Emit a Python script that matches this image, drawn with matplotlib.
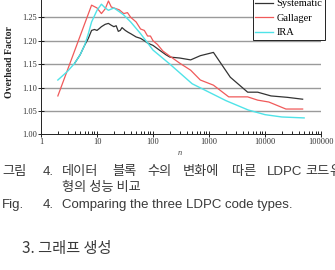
import matplotlib
matplotlib.use("Agg")
import matplotlib.pyplot as plt
from matplotlib.ticker import LogLocator, NullFormatter, FixedLocator

# ---- data ----
sys_n = [4, 5, 6, 7, 8, 9, 10, 11, 12, 14, 16, 18, 20, 22, 24, 26, 28, 32, 36, 40,
         50, 60, 70, 80, 100, 130, 170, 200, 300, 470, 700, 1200, 2400, 4900, 7400,
         12800, 25000, 47000]
sys_v = [1.152, 1.17, 1.19, 1.205, 1.222, 1.224, 1.222, 1.226, 1.23, 1.235, 1.237,
         1.233, 1.23, 1.232, 1.22, 1.222, 1.228, 1.222, 1.218, 1.215, 1.208, 1.205,
         1.2, 1.195, 1.19, 1.18, 1.17, 1.165, 1.163, 1.159, 1.168, 1.175, 1.122,
         1.09, 1.09, 1.082, 1.079, 1.075]

gal_n = [2, 8, 10, 12, 14, 16, 18, 20, 25, 30, 35, 40, 50, 60, 70, 80, 90, 100, 120,
         150, 200, 300, 470, 700, 1200, 2250, 4900, 7400, 11700, 23600, 47000]
gal_v = [1.082, 1.276, 1.27, 1.258, 1.268, 1.285, 1.272, 1.27, 1.266, 1.258, 1.26,
         1.25, 1.24, 1.225, 1.222, 1.21, 1.21, 1.2, 1.192, 1.178, 1.167, 1.152,
         1.137, 1.116, 1.105, 1.08, 1.08, 1.073, 1.069, 1.054, 1.054]

ira_n = [2, 3, 4, 5, 6, 7, 8, 10, 12, 14, 16, 20, 25, 30, 40, 60, 100, 200, 500,
         1000, 2000, 5000, 10000, 20000, 50000]
ira_v = [1.116, 1.135, 1.152, 1.17, 1.19, 1.215, 1.24, 1.265, 1.278, 1.27, 1.265,
         1.27, 1.262, 1.255, 1.24, 1.215, 1.18, 1.15, 1.108, 1.09, 1.072, 1.052,
         1.042, 1.037, 1.035]

series_labels = ["Systematic", "Gallager", "IRA"]
y_ticks = [1.00, 1.05, 1.10, 1.15, 1.20, 1.25]
x_ticks = [1, 10, 100, 1000, 10000, 100000]

W, H = 335, 270
fig = plt.figure(figsize=(W / 100, H / 100), dpi=100)
ax = fig.add_axes([41 / W, 1 - 134.3 / H, (321 - 41) / W, 134.3 / H])

serif = ["Liberation Serif", "DejaVu Serif"]

for y in y_ticks[1:]:
    ax.axhline(y, color="#9a9a9a", lw=1.0, zorder=0)

ax.plot(sys_n, sys_v, color="#333333", lw=0.9, label=series_labels[0])
ax.plot(gal_n, gal_v, color="#f05a5a", lw=0.9, label=series_labels[1])
ax.plot(ira_n, ira_v, color="#4fe3e8", lw=1.0, label=series_labels[2])

ax.set_xscale("log")
ax.set_xlim(1, 100000)
ax.set_ylim(1.0, 1.287)
ax.xaxis.set_major_locator(FixedLocator(x_ticks))
ax.set_xticklabels([str(v) for v in x_ticks], fontfamily=serif, fontsize=6, color="#333333")
ax.xaxis.set_minor_locator(LogLocator(base=10, subs=range(2, 10)))
ax.xaxis.set_minor_formatter(NullFormatter())
ax.set_yticks(y_ticks)
ax.set_yticklabels([f"{v:.2f}" for v in y_ticks], fontfamily=serif, fontsize=6, color="#333333")
ax.tick_params(axis="both", which="major", direction="inout", length=4, width=0.6, pad=1)
ax.tick_params(axis="x", which="minor", direction="in", length=2, width=0.6)
for s in ["top", "right"]:
    ax.spines[s].set_visible(False)
for s in ["left", "bottom"]:
    ax.spines[s].set_linewidth(0.7)
    ax.spines[s].set_color("#222222")

leg = fig.legend(*ax.get_legend_handles_labels(), loc="lower right",
                 bbox_to_anchor=(325 / W, 1 - 40 / H), frameon=True, fancybox=False,
                 prop={"family": serif, "size": 7.5}, handlelength=1.7, handletextpad=0.35,
                 borderpad=0.25, labelspacing=0.5, borderaxespad=0)
leg.get_frame().set_edgecolor("#222222")
leg.get_frame().set_linewidth(0.7)
leg.get_frame().set_alpha(1)

fig.text(10 / W, 1 - 62 / H, "Overhead Factor", rotation=90, ha="center", va="center",
         fontfamily=serif, fontweight="bold", fontsize=7, color="#222222")
fig.text(180 / W, 1 - 153 / H, "n", ha="center", va="center", fontfamily=serif,
         fontstyle="italic", fontsize=6, color="#444444")

kr = ["Noto Sans CJK KR", "DejaVu Sans"]
en = ["Liberation Sans", "DejaVu Sans"]
cap_color = "#3a3a3a"
cap_fs = 9.5
y1, y2, y3, y4 = 172, 188, 205, 248
line1 = [(2, "그림", kr), (43, "4.", en), (62, "데이터", kr), (112, "블록", kr),
         (147, "수의", kr), (183, "변화에", kr), (232, "따른", kr), (267, "LDPC", en),
         (305, "코드", kr), (329, "유", kr)]
for x, t, fam in line1:
    fig.text(x / W, 1 - y1 / H, t, ha="left", va="center", fontfamily=fam,
             fontsize=cap_fs, color=cap_color)
fig.text(62 / W, 1 - y2 / H, "형의 성능 비교", ha="left", va="center", fontfamily=kr,
         fontsize=cap_fs, color=cap_color)
fig.text(2 / W, 1 - y3 / H, "Fig.", ha="left", va="center", fontfamily=en,
         fontsize=cap_fs, color=cap_color)
fig.text(43 / W, 1 - y3 / H, "4.", ha="left", va="center", fontfamily=en,
         fontsize=cap_fs, color=cap_color)
fig.text(62 / W, 1 - y3 / H, "Comparing the three LDPC code types.", ha="left",
         va="center", fontfamily=en, fontsize=cap_fs, color=cap_color)
fig.text(22 / W, 1 - y4 / H, "3. 그래프 생성", ha="left", va="center", fontfamily=kr,
         fontsize=11, color=cap_color)

fig.savefig("out.png", dpi=100)
